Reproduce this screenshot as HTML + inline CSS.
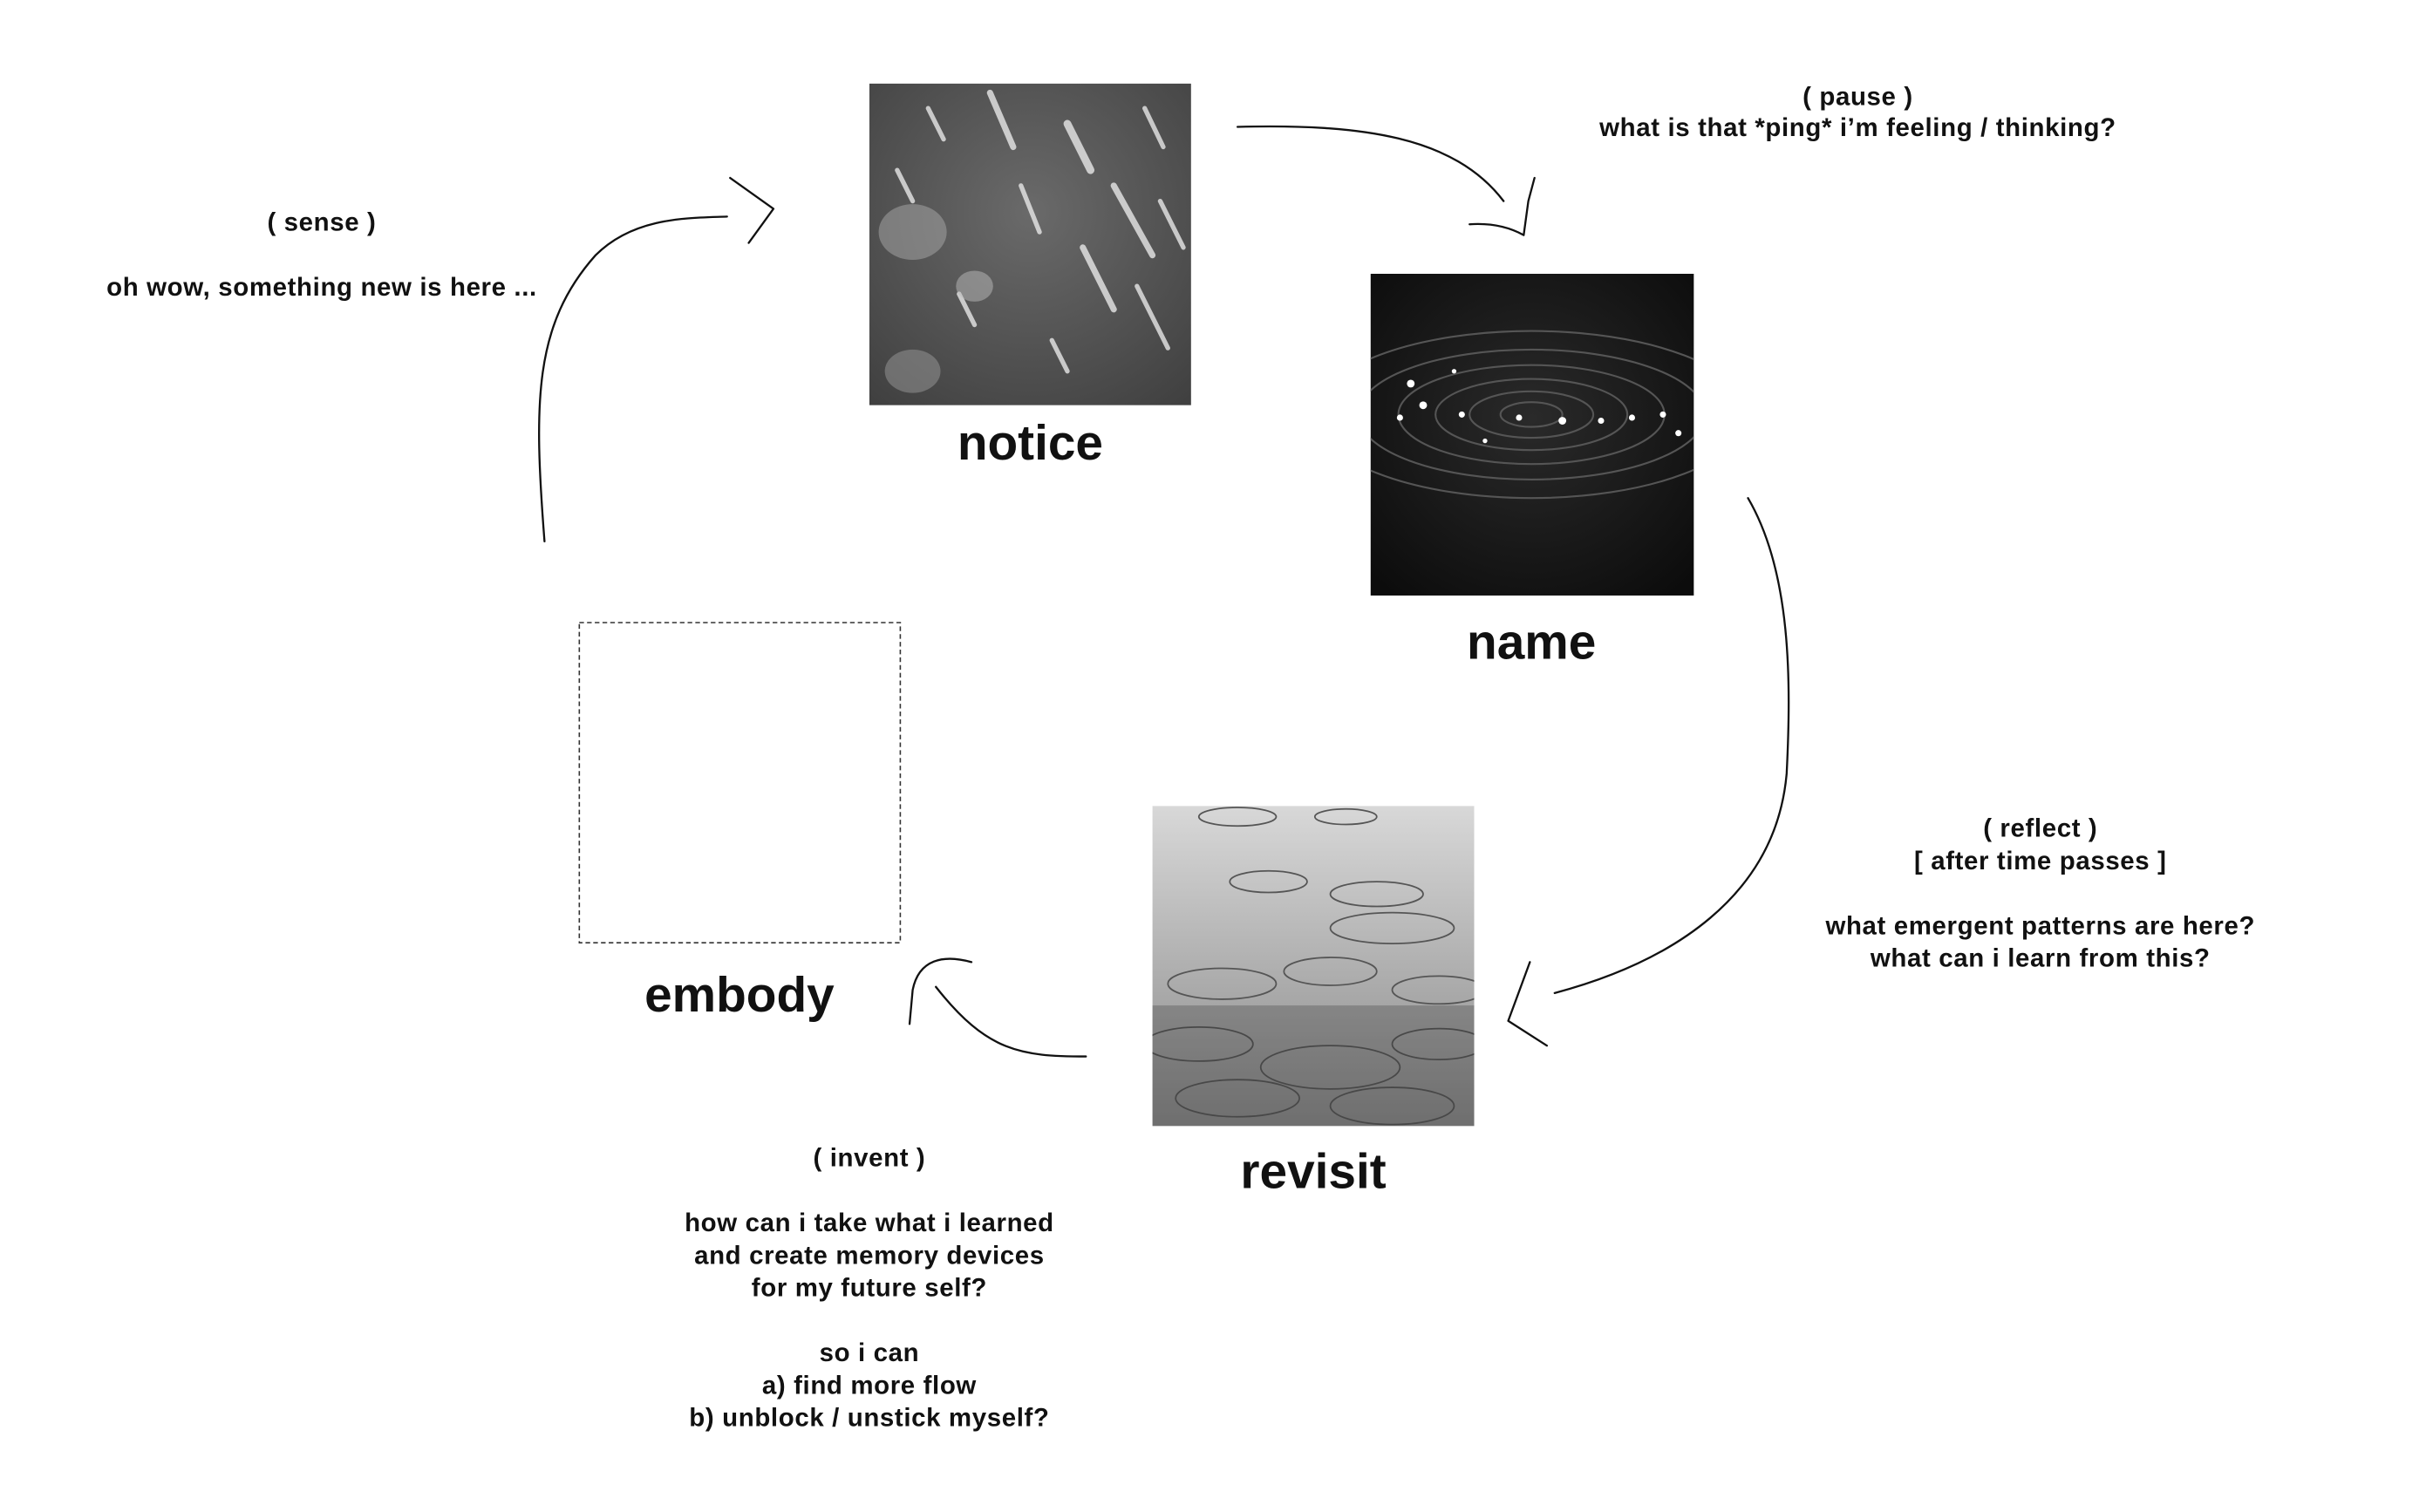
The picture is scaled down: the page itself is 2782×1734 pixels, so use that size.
<!DOCTYPE html>
<html><head><meta charset="utf-8"><style>
html,body{margin:0;padding:0;background:#fff;}
svg{display:block;}
text{font-family:"Liberation Sans",Arial,sans-serif;font-weight:bold;fill:#111;}
.s{font-size:16.6px;letter-spacing:0.35px;}
.l{font-size:32px;}
</style></head><body>
<svg width="2782" height="1734" viewBox="0 0 1568.3 977.5" xmlns="http://www.w3.org/2000/svg">
<defs>
<radialGradient id="gN" cx="0.5" cy="0.4" r="0.8"><stop offset="0" stop-color="#6a6a6a"/><stop offset="1" stop-color="#3e3e3e"/></radialGradient>
<radialGradient id="gM" cx="0.5" cy="0.45" r="0.7"><stop offset="0" stop-color="#2a2a2a"/><stop offset="1" stop-color="#0c0c0c"/></radialGradient>
<linearGradient id="gR" x1="0" y1="0" x2="0" y2="1"><stop offset="0" stop-color="#d8d8d8"/><stop offset="0.5" stop-color="#b0b0b0"/><stop offset="1" stop-color="#888"/></linearGradient>
<clipPath id="c1"><rect x="562" y="54" width="208" height="208"/></clipPath>
<clipPath id="c2"><rect x="886" y="177" width="209" height="208"/></clipPath>
<clipPath id="c3"><rect x="745" y="521" width="208" height="207"/></clipPath>
</defs>

<g clip-path="url(#c1)">
<rect x="562" y="54" width="208" height="208" fill="url(#gN)"/>
<g stroke="#e8e8e8" stroke-linecap="round" opacity="0.8">
<line x1="600" y1="70" x2="610" y2="90" stroke-width="3"/>
<line x1="640" y1="60" x2="655" y2="95" stroke-width="4"/>
<line x1="690" y1="80" x2="705" y2="110" stroke-width="5"/>
<line x1="720" y1="120" x2="745" y2="165" stroke-width="4"/>
<line x1="660" y1="120" x2="672" y2="150" stroke-width="3"/>
<line x1="740" y1="70" x2="752" y2="95" stroke-width="3"/>
<line x1="580" y1="110" x2="590" y2="130" stroke-width="3"/>
<line x1="700" y1="160" x2="720" y2="200" stroke-width="4"/>
<line x1="735" y1="185" x2="755" y2="225" stroke-width="3"/>
<line x1="620" y1="190" x2="630" y2="210" stroke-width="3"/>
<line x1="680" y1="220" x2="690" y2="240" stroke-width="3"/>
<line x1="750" y1="130" x2="765" y2="160" stroke-width="3"/>
</g>
<ellipse cx="590" cy="150" rx="22" ry="18" fill="#aaa" opacity="0.5"/>
<ellipse cx="630" cy="185" rx="12" ry="10" fill="#bbb" opacity="0.5"/>
<ellipse cx="590" cy="240" rx="18" ry="14" fill="#999" opacity="0.5"/>
</g>

<g clip-path="url(#c2)">
<rect x="886" y="177" width="209" height="208" fill="url(#gM)"/>
<g fill="none" stroke="#555" stroke-width="1.2">
<ellipse cx="990" cy="268" rx="20" ry="8"/>
<ellipse cx="990" cy="268" rx="40" ry="15"/>
<ellipse cx="990" cy="268" rx="62" ry="23"/>
<ellipse cx="990" cy="268" rx="86" ry="32"/>
<ellipse cx="990" cy="268" rx="112" ry="42"/>
<ellipse cx="990" cy="268" rx="140" ry="54"/>
</g>
<g fill="#fff">
<circle cx="912" cy="248" r="2.5"/><circle cx="920" cy="262" r="2.5"/><circle cx="905" cy="270" r="2"/>
<circle cx="945" cy="268" r="2"/><circle cx="982" cy="270" r="2"/><circle cx="1010" cy="272" r="2.5"/>
<circle cx="1035" cy="272" r="2"/><circle cx="1055" cy="270" r="2"/><circle cx="1075" cy="268" r="2"/>
<circle cx="1085" cy="280" r="2"/><circle cx="960" cy="285" r="1.5"/><circle cx="940" cy="240" r="1.5"/>
</g>
</g>

<g clip-path="url(#c3)">
<rect x="745" y="521" width="208" height="207" fill="url(#gR)"/>
<g fill="none" stroke="#555" stroke-width="1">
<ellipse cx="800" cy="528" rx="25" ry="6"/><ellipse cx="870" cy="528" rx="20" ry="5"/>
<ellipse cx="890" cy="578" rx="30" ry="8"/><ellipse cx="820" cy="570" rx="25" ry="7"/>
<ellipse cx="900" cy="600" rx="40" ry="10"/>
<ellipse cx="790" cy="636" rx="35" ry="10"/><ellipse cx="860" cy="628" rx="30" ry="9"/>
<ellipse cx="930" cy="640" rx="30" ry="9"/>
<ellipse cx="775" cy="675" rx="35" ry="11"/><ellipse cx="860" cy="690" rx="45" ry="14"/>
<ellipse cx="930" cy="675" rx="30" ry="10"/>
<ellipse cx="800" cy="710" rx="40" ry="12"/><ellipse cx="900" cy="715" rx="40" ry="12"/>
</g>
<rect x="745" y="650" width="208" height="78" fill="#222" opacity="0.25"/>
</g>

<rect x="374.5" y="402.5" width="207.5" height="207" fill="none" stroke="#333" stroke-width="0.9" stroke-dasharray="3,2"/>

<text class="l" x="666" y="297" text-anchor="middle">notice</text>
<text class="l" x="990" y="426" text-anchor="middle">name</text>
<text class="l" x="849" y="768" text-anchor="middle">revisit</text>
<text class="l" x="478" y="654" text-anchor="middle">embody</text>

<g fill="none" stroke="#111" stroke-width="1.3" stroke-linecap="round" stroke-linejoin="round">
<path d="M800,82 C880,80 940,88 972,130 M950,145 C965,144 976,147 985,152 L988,130 L992,115"/>
<path d="M1130,322 C1158,370 1158,440 1155,500 C1148,580 1080,622 1005,642 M989,622 L975,660 L1000,676"/>
<path d="M702,683 C660,683 638,680 605,638 M588,662 L590,640 C594,620 610,617 628,622"/>
<path d="M352,350 C345,260 345,210 385,165 C410,140 445,141 470,140 M472,115 L500,135 L484,157"/>
</g>

<g text-anchor="middle">
<text class="s" x="208" y="149">( sense )</text>
<text class="s" x="208" y="191">oh wow, something new is here ...</text>
</g>
<g text-anchor="middle">
<text class="s" x="1201" y="68">( pause )</text>
<text class="s" x="1201" y="88">what is that *ping* i’m feeling / thinking?</text>
</g>
<g text-anchor="middle">
<text class="s" x="1319" y="541">( reflect )</text>
<text class="s" x="1319" y="562">[ after time passes ]</text>
<text class="s" x="1319" y="604">what emergent patterns are here?</text>
<text class="s" x="1319" y="625">what can i learn from this?</text>
</g>
<g text-anchor="middle">
<text class="s" x="562" y="754">( invent )</text>
<text class="s" x="562" y="796">how can i take what i learned</text>
<text class="s" x="562" y="817">and create memory devices</text>
<text class="s" x="562" y="838">for my future self?</text>
<text class="s" x="562" y="880">so i can</text>
<text class="s" x="562" y="901">a) find more flow</text>
<text class="s" x="562" y="922">b) unblock / unstick myself?</text>
</g>
</svg>
</body></html>
